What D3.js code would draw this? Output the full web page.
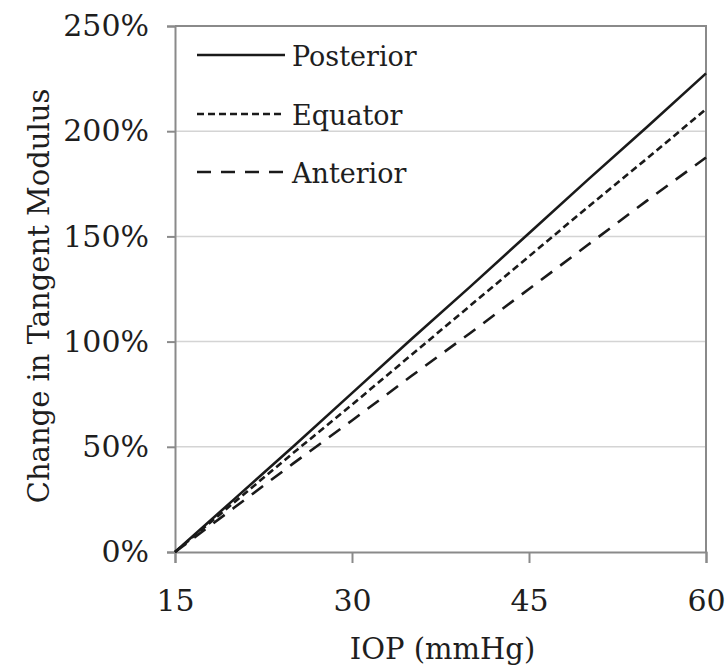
<!DOCTYPE html>
<html>
<head>
<meta charset="utf-8">
<script src="https://cdn.jsdelivr.net/npm/d3@7"></script>
<style>
  body { margin: 0; background: #fff; }
</style>
</head>
<body>
<div id="chart-area"></div>
<script>
// values
var iop = [15, 20, 25, 30, 35, 40, 45, 50, 55, 60];
var posterior = [0, 25, 50, 75.5, 101, 126, 151.5, 177, 202, 227.5];
var equator = [0, 23.5, 47, 70, 93.5, 117, 140.5, 164, 187, 210.5];
var anterior = [0, 21, 42, 62.5, 83.5, 104, 125, 146, 167, 187.5];
var seriesNames = ["Posterior", "Equator", "Anterior"];
var xTicks = [15, 30, 45, 60];
var yTicks = [0, 50, 100, 150, 200, 250];

var serif = "'DejaVu Serif', serif";

var margin = { left: 175, right: 22, top: 26, bottom: 115 };
var width = 728 - margin.left - margin.right,
    height = 667 - margin.top - margin.bottom;

var svg = d3.select("#chart-area").append("svg")
    .attr("width", 728)
    .attr("height", 667);
var g = svg.append("g")
    .attr("transform", "translate(" + margin.left + "," + margin.top + ")");

var x = d3.scaleLinear().domain([15, 60]).range([0, width]);
var y = d3.scaleLinear().domain([0, 250]).range([height, 0]);

// gridlines
g.selectAll(".grid").data(yTicks.filter(function(d){ return d > 0 && d < 250; }))
  .enter().append("line")
    .attr("x1", 0).attr("x2", width)
    .attr("y1", function(d){ return y(d); })
    .attr("y2", function(d){ return y(d); })
    .attr("stroke", "#d4d4d4")
    .attr("stroke-width", 1.5);

// frame top/right
g.append("path")
    .attr("d", "M0," + y(250) + "H" + width + "V" + height)
    .attr("fill", "none")
    .attr("stroke", "#8a8a8a")
    .attr("stroke-width", 2);

// axes
var xAxis = g.append("g")
    .attr("transform", "translate(0," + height + ")")
    .call(d3.axisBottom(x).tickValues(xTicks).tickSize(11).tickPadding(26));
var yAxis = g.append("g")
    .call(d3.axisLeft(y).tickValues(yTicks).tickSize(8).tickPadding(18)
      .tickFormat(function(d){ return d + "%"; }));

[xAxis, yAxis].forEach(function(a){
  a.attr("font-family", null).attr("font-size", null);
  a.select(".domain").attr("stroke", "#8a8a8a").attr("stroke-width", 2);
  a.selectAll(".tick line").attr("stroke", "#8a8a8a").attr("stroke-width", 2);
  a.selectAll(".tick text")
    .style("font-family", serif)
    .style("font-size", "30px")
    .attr("fill", "#1e1e1e");
});
xAxis.selectAll(".tick text").attr("dy", "0.72em");

// labels
svg.append("text")
    .attr("x", margin.left + width / 2 + 2)
    .attr("y", 659)
    .attr("text-anchor", "middle")
    .style("font-family", serif)
    .style("font-size", "29px")
    .attr("fill", "#1e1e1e")
    .text("IOP (mmHg)");
svg.append("text")
    .attr("transform", "translate(49," + (margin.top + height / 2 + 7) + ") rotate(-90)")
    .attr("text-anchor", "middle")
    .style("font-family", serif)
    .style("font-size", "29px")
    .attr("fill", "#1e1e1e")
    .text("Change in Tangent Modulus");

// lines
var series = [
  { name: seriesNames[0], values: posterior, dash: null },
  { name: seriesNames[1], values: equator, dash: "7,4" },
  { name: seriesNames[2], values: anterior, dash: "14,10" }
];
var line = d3.line()
    .x(function(d, i){ return x(iop[i]); })
    .y(function(d){ return y(d); });

g.selectAll(".series").data(series).enter().append("path")
    .attr("d", function(d){ return line(d.values); })
    .attr("fill", "none")
    .attr("stroke", "#1a1a1a")
    .attr("stroke-width", 2.6)
    .attr("stroke-dasharray", function(d){ return d.dash; });

// legend
var legendY = [55, 114, 172];
var leg = svg.selectAll(".leg").data(series).enter().append("g")
    .attr("transform", function(d, i){ return "translate(197," + legendY[i] + ")"; });
leg.append("line")
    .attr("x1", 0).attr("x2", 88)
    .attr("stroke", "#1a1a1a")
    .attr("stroke-width", 2.6)
    .attr("stroke-dasharray", function(d){ return d.dash; });
leg.append("text")
    .attr("x", 95)
    .attr("dy", "11px")
    .style("font-family", serif)
    .style("font-size", "27px")
    .attr("fill", "#1e1e1e")
    .text(function(d){ return d.name; });
</script>
</body>
</html>
